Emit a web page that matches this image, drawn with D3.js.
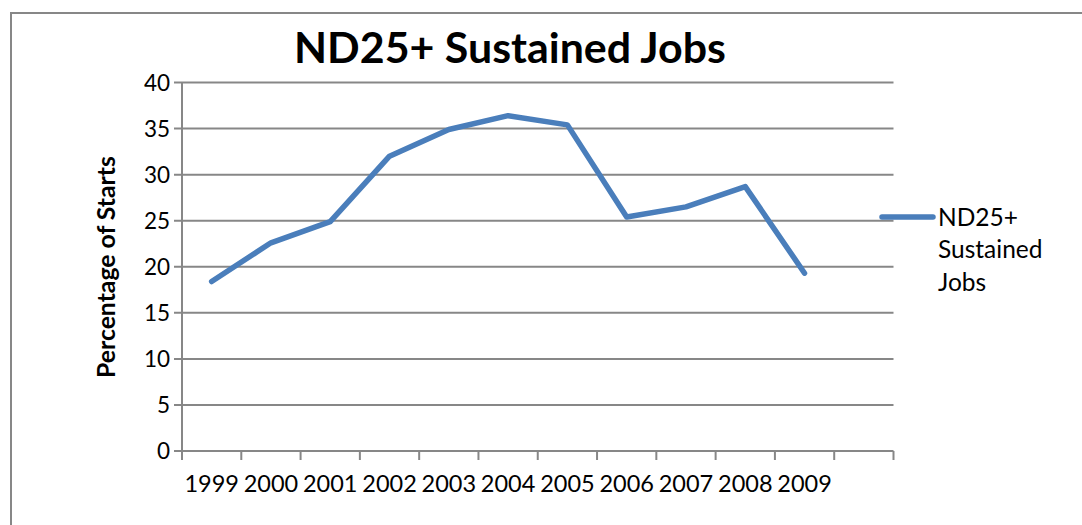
<!DOCTYPE html>
<html>
<head>
<meta charset="utf-8">
<script src="https://cdn.jsdelivr.net/npm/d3@7"></script>
<style>
  body { margin: 0; background: #fff; }
  svg { display: block; font-family: Lato, "Open Sans", sans-serif; }
</style>
</head>
<body>
<svg id="chart" width="1082" height="525"></svg>
<script>
const years = ['1999', '2000', '2001', '2002', '2003', '2004', '2005', '2006', '2007', '2008', '2009'];
const sustained = [18.4, 22.6, 24.9, 32.0, 34.9, 36.4, 35.4, 25.4, 26.5, 28.7, 19.3];
const yTicks = [0, 5, 10, 15, 20, 25, 30, 35, 40];
const seriesName = ['ND25+', 'Sustained', 'Jobs'];
const title = 'ND25+ Sustained Jobs';
const yLabel = 'Percentage of Starts';

const svg = d3.select('#chart');
const plotLeft = 182, plotRight = 893.5, plotTop = 82.5, plotBottom = 451;
const blue = '#4a7ebb', grey = '#878787';

// shrink/grow a text node so it spans the given width
function fitWidth(sel, size, width) {
  const w = sel.node().getComputedTextLength();
  sel.attr('font-size', size * width / w);
}

// outer frame (only top and left edges are visible in the original)
svg.append('path')
  .attr('d', 'M11,525V13H1082')
  .attr('fill', 'none')
  .attr('stroke', grey)
  .attr('stroke-width', 2);

// one spare category slot at the end, as in the source chart
const x = d3.scaleBand()
  .domain(years.concat(['']))
  .range([plotLeft, plotRight]);

const y = d3.scaleLinear()
  .domain([0, 40])
  .range([plotBottom, plotTop]);

// gridlines + y ticks
svg.append('g')
  .selectAll('line')
  .data(yTicks)
  .enter()
  .append('line')
  .attr('x1', plotLeft - 8)
  .attr('x2', plotRight)
  .attr('y1', d => y(d))
  .attr('y2', d => y(d))
  .attr('stroke', grey)
  .attr('stroke-width', 2);

svg.append('g')
  .selectAll('text')
  .data(yTicks)
  .enter()
  .append('text')
  .attr('x', plotLeft - 12)
  .attr('y', d => y(d))
  .attr('dy', '0.36em')
  .attr('text-anchor', 'end')
  .attr('font-size', 22.5)
  .text(d => d);

// y axis line
svg.append('line')
  .attr('x1', plotLeft).attr('x2', plotLeft)
  .attr('y1', plotTop).attr('y2', plotBottom)
  .attr('stroke', grey)
  .attr('stroke-width', 2);

// x tick marks sit on category boundaries
svg.append('g')
  .selectAll('line')
  .data(d3.range(x.domain().length + 1))
  .enter()
  .append('line')
  .attr('x1', i => plotLeft + i * x.step())
  .attr('x2', i => plotLeft + i * x.step())
  .attr('y1', plotBottom)
  .attr('y2', plotBottom + 9)
  .attr('stroke', grey)
  .attr('stroke-width', 2);

svg.append('g')
  .selectAll('text')
  .data(years)
  .enter()
  .append('text')
  .attr('x', d => x(d) + x.bandwidth() / 2)
  .attr('y', 492)
  .attr('text-anchor', 'middle')
  .attr('font-size', 23.5)
  .text(d => d);

// the series
const line = d3.line()
  .x((d, i) => x(years[i]) + x.bandwidth() / 2)
  .y(d => y(d));

svg.append('path')
  .datum(sustained)
  .attr('d', line)
  .attr('fill', 'none')
  .attr('stroke', blue)
  .attr('stroke-width', 5.5)
  .attr('stroke-linejoin', 'round')
  .attr('stroke-linecap', 'round');

// title, fitted to the width it has in the original
const t = svg.append('text')
  .attr('x', 510)
  .attr('y', 63)
  .attr('text-anchor', 'middle')
  .attr('font-weight', 'bold')
  .attr('font-size', 36)
  .text(title);
fitWidth(t, 36, 432);

// y axis title
const yt = svg.append('text')
  .attr('transform', 'translate(115,267) rotate(-90)')
  .attr('text-anchor', 'middle')
  .attr('font-weight', 'bold')
  .attr('font-size', 20)
  .text(yLabel);
fitWidth(yt, 20, 222);

// legend
const legend = svg.append('g');
legend.append('line')
  .attr('x1', 882).attr('x2', 933)
  .attr('y1', 217).attr('y2', 217)
  .attr('stroke', blue)
  .attr('stroke-width', 5.5)
  .attr('stroke-linecap', 'round');
legend.selectAll('text')
  .data(seriesName)
  .enter()
  .append('text')
  .attr('x', 938)
  .attr('y', (d, i) => 217 + i * 32.5)
  .attr('dy', '0.36em')
  .attr('font-size', 24.5)
  .text(d => d);
</script>
</body>
</html>
